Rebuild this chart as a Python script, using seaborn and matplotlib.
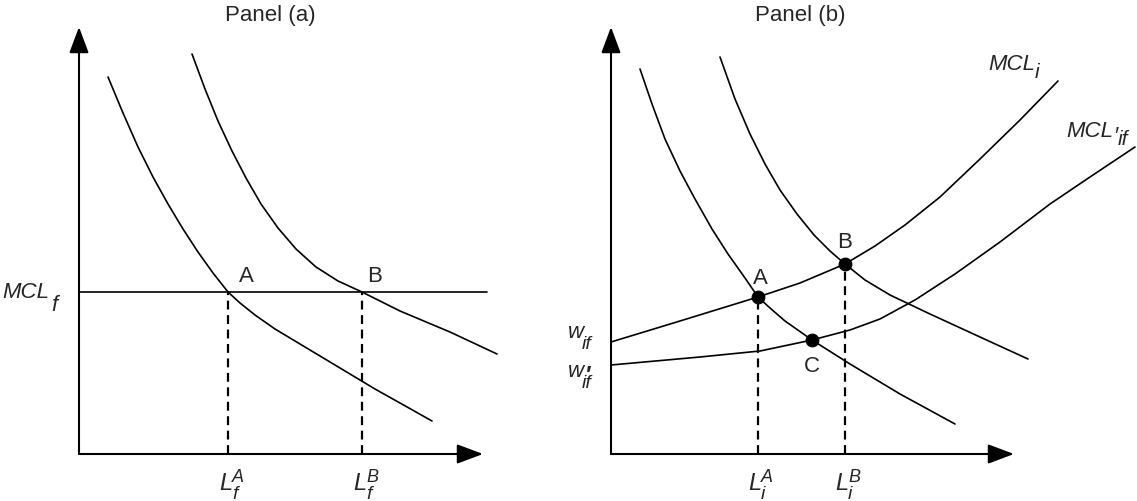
import matplotlib
matplotlib.use("Agg")
import matplotlib.pyplot as plt
import seaborn as sns

# Panel (a): curves, in units measured from the axis corner
dA1_x = [29, 44, 59, 74, 89, 104, 119, 134, 149, 161, 176, 196, 221, 246, 271, 296, 321, 353]
dA1_y = [377, 341, 307, 277, 250, 225, 202, 181, 162, 151, 139, 125, 110, 95, 80, 65, 51, 33]
dA2_x = [113, 126, 139, 153, 167, 182, 199, 217, 237, 259, 283, 321, 371, 418]
dA2_y = [400, 365, 333, 303, 276, 250, 226, 205, 187, 173, 162, 143, 122, 100]
mclf_x = [0, 408]
mclf_y = [162, 162]
LfA = 149
LfB = 283

# Panel (b)
dB1_x = [29, 41, 54, 69, 84, 101, 117, 134, 147, 159, 174, 201, 239, 289, 344]
dB1_y = [385, 350, 315, 283, 255, 225, 200, 176, 157, 146, 133, 114, 90, 60, 30]
dB2_x = [109, 124, 139, 154, 169, 186, 203, 219, 234, 254, 279, 319, 369, 417]
dB2_y = [397, 355, 320, 290, 264, 240, 219, 203, 190, 174, 159, 140, 117, 95]
mcli_x = [0, 69, 147, 189, 234, 264, 294, 329, 369, 409, 447]
mcli_y = [112, 133, 157, 171, 190, 208, 229, 257, 295, 334, 373]
mclif_x = [0, 89, 149, 201, 239, 269, 304, 344, 389, 439, 479, 524]
mclif_y = [89, 97, 103, 114, 124, 135, 154, 180, 212, 250, 277, 307]
pts_x = [147, 234, 201]
pts_y = [157, 190, 114]

sns.set_style("white")
plt.rcParams["font.family"] = ["Liberation Sans", "DejaVu Sans"]

W, H = 1137, 502
fig = plt.figure(figsize=(W / 100, H / 100), dpi=100)
axa = fig.add_axes([79 / W, 47 / H, 404 / W, 427 / H])
axb = fig.add_axes([611 / W, 47 / H, 403 / W, 427 / H])

fs = 16
lw = 1.2


def frame(ax, xmax, ymax):
    ax.set_xlim(0, xmax)
    ax.set_ylim(0, ymax)
    ax.axis("off")
    arr = dict(arrowstyle="-|>,head_length=0.8,head_width=0.3", color="black",
               lw=1.5, mutation_scale=20, shrinkA=0, shrinkB=0)
    ax.annotate("", xy=(xmax, 0), xytext=(0, 0), arrowprops=arr, annotation_clip=False)
    ax.annotate("", xy=(0, ymax), xytext=(0, 0), arrowprops=arr, annotation_clip=False)


def curve(ax, x, y):
    sns.lineplot(x=x, y=y, ax=ax, color="black", lw=lw, sort=False,
                 estimator=None, legend=False, clip_on=False)


def lab(ax, x, y, main, sub=None, sup=None, size=16, sub_size=14, sup_size=12,
        ha="left", sub_off=(0, -5), sup_off=(0, 9), sup_bold=False):
    t = ax.text(x, y, main, ha=ha, va="baseline", fontsize=size, fontstyle="italic")
    if sub:
        ax.annotate(sub, xy=(1, 0), xycoords=t, xytext=sub_off, textcoords="offset points",
                    ha="left", va="baseline", fontsize=sub_size, fontstyle="italic")
    if sup:
        ax.annotate(sup, xy=(1, 0), xycoords=t, xytext=sup_off, textcoords="offset points",
                    ha="left", va="baseline", fontsize=sup_size, fontstyle="italic",
                    fontweight="bold" if sup_bold else "normal")
    return t


# ---- Panel (a)
frame(axa, 404, 427)
curve(axa, dA1_x, dA1_y)
curve(axa, dA2_x, dA2_y)
curve(axa, mclf_x, mclf_y)
for xv in [LfA, LfB]:
    axa.plot([xv, xv], [0, 162], color="black", lw=1.6, ls=(0, (4, 2.5)))
axa.text(191, 440, "Panel (a)", ha="center", va="center", fontsize=fs)
axa.text(167, 179, "A", ha="center", va="center", fontsize=fs)
axa.text(296, 179, "B", ha="center", va="center", fontsize=fs)
lab(axa, -77, 157, "MCL", sub="f", sub_size=16, sub_off=(1.5, -5.5))
for xv, s in [(LfA, "A"), (LfB, "B")]:
    lab(axa, xv + 4, -35, "L", sub="f", sup=s, size=17, sub_size=14, sup_size=13,
        ha="right", sub_off=(0, -3), sup_off=(0, 9))

# ---- Panel (b)
frame(axb, 403, 427)
curve(axb, dB1_x, dB1_y)
curve(axb, dB2_x, dB2_y)
curve(axb, mcli_x, mcli_y)
curve(axb, mclif_x, mclif_y)
for xv, yv in zip(pts_x[:2], pts_y[:2]):
    axb.plot([xv, xv], [0, yv], color="black", lw=1.6, ls=(0, (4, 2.5)))
sns.scatterplot(x=pts_x, y=pts_y, ax=axb, color="black", s=85, zorder=5,
                edgecolor="black", legend=False)
axb.text(189, 440, "Panel (b)", ha="center", va="center", fontsize=fs)
axb.text(149, 177, "A", ha="center", va="center", fontsize=fs)
axb.text(234, 213, "B", ha="center", va="center", fontsize=fs)
axb.text(201, 89, "C", ha="center", va="center", fontsize=fs)
lab(axb, 377, 385, "MCL", sub="i", sub_size=15, sub_off=(0, -2.5))
lab(axb, 455, 318, "MCL", sub="if", sup="\u2032", sub_size=15, sup_size=16,
    sub_off=(3.5, -2.5), sup_off=(0, 0))
lab(axb, -43, 117, "w", sub="if", sub_size=14, sub_off=(-1.5, -4.5))
lab(axb, -43, 78, "w", sub="if", sup="\u2032", sub_size=14, sup_size=16,
    sub_off=(-1.5, -4.5), sup_off=(0.5, 1), sup_bold=True)
for xv, s in [(pts_x[0], "A"), (pts_x[1], "B")]:
    lab(axb, xv + 3, -35, "L", sub="i", sup=s, size=17, sub_size=14, sup_size=13,
        ha="right", sub_off=(0, -3), sup_off=(0, 9))

fig.savefig("out.png", dpi=100)
